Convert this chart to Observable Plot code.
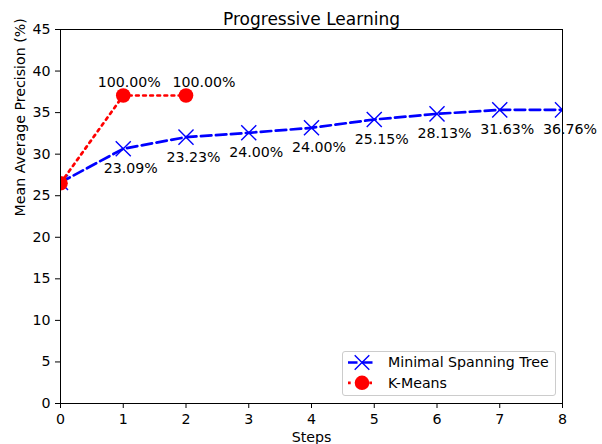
<!DOCTYPE html>
<html>
<head>
<meta charset="utf-8">
<script src="https://cdn.jsdelivr.net/npm/d3@7"></script>
<script src="https://cdn.jsdelivr.net/npm/@observablehq/plot@0.6"></script>
<style>
  body { margin: 0; background: white; }
  #wrap { position: relative; width: 602px; height: 444px; overflow: hidden; font-family: "DejaVu Sans", sans-serif; }
  #legend { position: absolute; left: 342px; top: 351px; width: 214px; height: 45px;
            box-sizing: border-box; border: 1px solid #cccccc; border-radius: 3px;
            background: rgba(255,255,255,0.8); }
  #legend svg { position: absolute; left: -1px; top: -1px; }
</style>
</head>
<body>
<div id="wrap"></div>
<script>
const title = "Progressive Learning";
const xLabel = "Steps";
const yLabel = "Mean Average Precision (%)";
const xTicks = [0, 1, 2, 3, 4, 5, 6, 7, 8];
const yTicks = [0, 5, 10, 15, 20, 25, 30, 35, 40, 45];

const seriesNames = ["Minimal Spanning Tree", "K-Means"];

const mstSteps = [0, 1, 2, 3, 4, 5, 6, 7, 8];
const mstMAP = [26.6, 30.65, 32.05, 32.57, 33.17, 34.17, 34.85, 35.33, 35.33];
const mstLabels = [null, "23.09%", "23.23%", "24.00%", "24.00%", "25.15%", "28.13%", "31.63%", "36.76%"];

const kmSteps = [0, 1, 2];
const kmMAP = [26.5, 37.06, 37.06];
const kmLabels = [null, "100.00%", "100.00%"];

// label nudges (style, in pixels)
const kmLabelDx = [0, 6, 18];

const mst = mstSteps.map((s, i) => ({step: s, map: mstMAP[i], label: mstLabels[i]}));
const km = kmSteps.map((s, i) => ({step: s, map: kmMAP[i], label: kmLabels[i], dx: kmLabelDx[i]}));

const BLUE = "#0000ff", RED = "#ff0000";
const FS = 14.2;

const chart = Plot.plot({
  width: 602,
  height: 444,
  marginLeft: 60,
  marginRight: 40,
  marginTop: 29,
  marginBottom: 41,
  style: {fontFamily: "DejaVu Sans", fontSize: FS + "px", background: "white", color: "black", overflow: "visible"},
  x: {domain: [0, 8]},
  y: {domain: [0, 45]},
  marks: [
    Plot.axisX({ticks: xTicks, tickSize: 5, tickPadding: 5, fontSize: FS, label: null, stroke: "black", fill: "black"}),
    Plot.axisY({ticks: yTicks, tickSize: 5, tickPadding: 5, fontSize: FS, label: null, stroke: "black", fill: "black"}),
    // MST
    Plot.line(mst, {x: "step", y: "map", stroke: BLUE, strokeWidth: 2.7, strokeDasharray: "10.5,4.5", clip: true}),
    Plot.dot(mst, {x: "step", y: "map", symbol: "times", r: 6.9, stroke: BLUE, strokeWidth: 1.4, fill: "none", clip: true}),
    Plot.text(mst.filter(d => d.label), {x: "step", y: "map", text: "label", dx: 7.5, dy: 20, fontSize: FS, fill: "black"}),
    // K-Means
    Plot.line(km, {x: "step", y: "map", stroke: RED, strokeWidth: 2.7, strokeDasharray: "2.7,4.4", clip: true}),
    Plot.dot(km, {x: "step", y: "map", r: 7.3, fill: RED, stroke: "none", clip: true}),
    ...km.filter(d => d.label).map(d =>
      Plot.text([d], {x: "step", y: "map", text: "label", dx: d.dx, dy: -13, fontSize: FS, fill: "black"})),
    Plot.frame({stroke: "black", strokeWidth: 1}),
    // Titles
    Plot.text([title], {frameAnchor: "top", dy: -17, fontSize: 17, fill: "black"}),
    Plot.text([xLabel], {frameAnchor: "bottom", dy: 38, fontSize: FS, fill: "black"}),
    Plot.text([yLabel], {frameAnchor: "left", dx: -40, rotate: -90, fontSize: FS, fill: "black"})
  ]
});

const wrap = document.getElementById("wrap");
wrap.appendChild(chart);

// Legend
const legend = document.createElement("div");
legend.id = "legend";
const ns = "http://www.w3.org/2000/svg";
const lsvg = document.createElementNS(ns, "svg");
lsvg.setAttribute("width", 214);
lsvg.setAttribute("height", 45);
const rows = [
  {name: seriesNames[0], color: BLUE, dash: "10.5,4.5", marker: "x", y: 11.5},
  {name: seriesNames[1], color: RED, dash: "2.7,4.4", marker: "o", y: 31.8}
];
for (const r of rows) {
  const ln = document.createElementNS(ns, "line");
  ln.setAttribute("x1", 6); ln.setAttribute("x2", 34);
  ln.setAttribute("y1", r.y); ln.setAttribute("y2", r.y);
  ln.setAttribute("stroke", r.color); ln.setAttribute("stroke-width", 2.7);
  ln.setAttribute("stroke-dasharray", r.dash);
  ln.setAttribute("stroke-dashoffset", r.marker === "x" ? 1 : 0);
  lsvg.appendChild(ln);
  if (r.marker === "x") {
    const p = document.createElementNS(ns, "path");
    const cx = 20, cy = r.y, h = 7.3;
    p.setAttribute("d", `M${cx-h},${cy-h}L${cx+h},${cy+h}M${cx-h},${cy+h}L${cx+h},${cy-h}`);
    p.setAttribute("stroke", r.color); p.setAttribute("stroke-width", 1.4); p.setAttribute("fill", "none");
    lsvg.appendChild(p);
  } else {
    const c = document.createElementNS(ns, "circle");
    c.setAttribute("cx", 20); c.setAttribute("cy", r.y); c.setAttribute("r", 7.3);
    c.setAttribute("fill", r.color);
    lsvg.appendChild(c);
  }
  const t = document.createElementNS(ns, "text");
  t.setAttribute("x", 46); t.setAttribute("y", r.y);
  t.setAttribute("dy", "0.35em");
  t.setAttribute("font-family", "DejaVu Sans");
  t.setAttribute("font-size", FS);
  t.setAttribute("fill", "black");
  t.textContent = r.name;
  lsvg.appendChild(t);
}
legend.appendChild(lsvg);
wrap.appendChild(legend);
</script>
</body>
</html>
